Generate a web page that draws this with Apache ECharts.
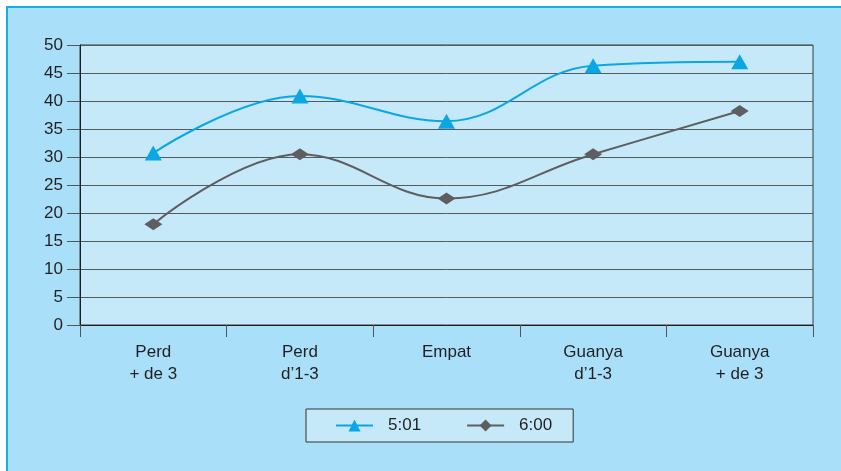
<!DOCTYPE html>
<html>
<head>
<meta charset="utf-8">
<script src="https://cdn.jsdelivr.net/npm/echarts@6/dist/echarts.min.js"></script>
<style>
html,body{margin:0;padding:0;background:#ffffff;}
#chart{width:841px;height:471px;}
</style>
</head>
<body>
<div id="chart"></div>
<script>
var categories = ['Perd\n+ de 3', 'Perd\nd\u20191-3', 'Empat', 'Guanya\nd\u20191-3', 'Guanya\n+ de 3'];
var series501 = [30.7, 40.9, 36.4, 46.3, 47.0];
var series600 = [18.0, 30.5, 22.6, 30.5, 38.2];
var yTicks = {min: 0, max: 50, interval: 5};

var font = "'Liberation Sans', Arial, Helvetica, sans-serif";
var chart = echarts.init(document.getElementById('chart'), null, {renderer: 'canvas'});
chart.setOption({
  animation: false,
  backgroundColor: '#ffffff',
  graphic: [{
    type: 'rect', z: -10, silent: true,
    shape: {x: 7, y: 7, width: 900, height: 520},
    style: {fill: '#a9dff9', stroke: '#16aeea', lineWidth: 2}
  }],
  grid: {
    left: 80, right: 28, top: 45, bottom: 146,
    show: true, backgroundColor: '#c6e9f9', borderColor: '#3a3a3a', borderWidth: 1
  },
  legend: {
    left: 306, top: 409,
    padding: [8, 21, 8, 29],
    itemGap: 45,
    itemWidth: 37, itemHeight: 15,
    backgroundColor: '#c6e9f9', borderColor: '#333333', borderWidth: 1,
    textStyle: {fontFamily: font, fontSize: 17, color: '#231f20', padding: [0, 0, 0, 10]},
    data: ['5:01', '6:00']
  },
  xAxis: {
    type: 'category',
    data: categories,
    boundaryGap: true,
    axisLine: {show: true, lineStyle: {color: '#1e1e1e', width: 1}},
    axisTick: {show: true, length: 12, lineStyle: {color: '#555555'}},
    axisLabel: {fontFamily: font, fontSize: 17, color: '#231f20', margin: 16, lineHeight: 22, interval: 0},
    splitLine: {show: false}
  },
  yAxis: {
    type: 'value',
    min: yTicks.min, max: yTicks.max, interval: yTicks.interval,
    axisLine: {show: true, lineStyle: {color: '#1e1e1e', width: 1}},
    axisTick: {show: true, length: 13, lineStyle: {color: '#555555'}},
    axisLabel: {fontFamily: font, fontSize: 17, color: '#231f20', margin: 17},
    splitLine: {show: true, lineStyle: {color: '#555a5e', width: 1}}
  },
  series: [
    {
      name: '5:01', type: 'line', data: series501, smooth: 0.4,
      symbol: 'triangle', symbolSize: [17, 15],
      lineStyle: {color: '#0ba6e4', width: 2},
      itemStyle: {color: '#0ba6e4'}
    },
    {
      name: '6:00', type: 'line', data: series600, smooth: 0.4,
      symbol: 'diamond', symbolSize: [18, 12],
      lineStyle: {color: '#5e5e60', width: 2},
      itemStyle: {color: '#5e5e60'}
    }
  ]
});
</script>
</body>
</html>
